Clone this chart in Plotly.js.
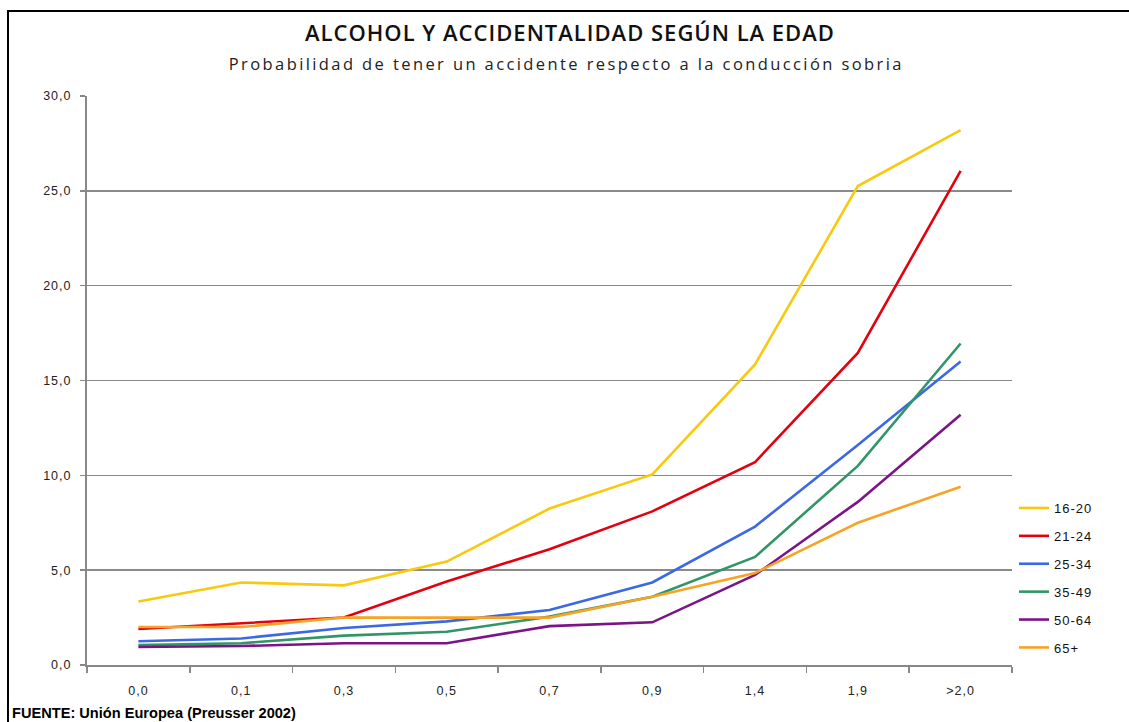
<!DOCTYPE html>
<html>
<head>
<meta charset="utf-8">
<script src="https://cdn.plot.ly/plotly-3.0.1.min.js"></script>
<style>
  html, body { margin: 0; padding: 0; background: #fff; overflow: hidden; }
  #frame { position: absolute; left: 7px; top: 10px; width: 1140px; height: 730px; border: 2px solid #000; box-sizing: border-box; }
  #chart { position: absolute; left: 0; top: 0; width: 1129px; height: 722px; }
  #chart .gtitle { letter-spacing: 1px; }
  #chart g.annotation[data-index="0"] text { letter-spacing: 2.4px; }
  #chart .xtick text, #chart .ytick text { letter-spacing: 1px; }
  #chart .legendtext { letter-spacing: 1px; }
</style>
</head>
<body>
<div id="frame"></div>
<div id="chart"></div>
<script>
const categories = ["0,0", "0,1", "0,3", "0,5", "0,7", "0,9", "1,4", "1,9", ">2,0"];
const seriesNames = ["16-20", "21-24", "25-34", "35-49", "50-64", "65+"];
const s16_20 = [3.35, 4.35, 4.2, 5.45, 8.25, 10.05, 15.85, 25.25, 28.2];
const s21_24 = [1.9, 2.2, 2.5, 4.4, 6.1, 8.1, 10.7, 16.45, 26.05];
const s25_34 = [1.25, 1.4, 1.95, 2.3, 2.9, 4.35, 7.3, 11.6, 16.0];
const s35_49 = [1.05, 1.15, 1.55, 1.75, 2.55, 3.6, 5.7, 10.5, 16.95];
const s50_64 = [0.95, 1.0, 1.15, 1.15, 2.05, 2.25, 4.75, 8.6, 13.2];
const s65 = [2.0, 2.0, 2.5, 2.5, 2.5, 3.6, 4.85, 7.5, 9.4];
const colors = ["#F7C90F", "#E4000E", "#3B69E3", "#319568", "#7B1487", "#F7A325"];
const allSeries = [s16_20, s21_24, s25_34, s35_49, s50_64, s65];

const traces = allSeries.map((vals, i) => ({
  type: "scatter",
  mode: "lines",
  name: seriesNames[i],
  x: categories,
  y: vals,
  legendgroup: "g" + i,
  line: { color: colors[i], width: 2.6 },
  hoverinfo: "x+y+name"
}));

const plotL = 87, plotR = 1012, plotT = 96, plotB = 665, W = 1129, H = 722;
const pw = plotR - plotL, ph = plotB - plotT;
const px = (x) => (x - plotL) / pw;
const py = (y) => (plotB - y) / ph;

const tickFont = { family: "Liberation Sans, Arial, sans-serif", size: 12.5, color: "#222" };

const layout = {
  width: W, height: H,
  margin: { l: plotL, r: W - plotR, t: plotT, b: H - plotB, pad: 0 },
  paper_bgcolor: "rgba(0,0,0,0)",
  plot_bgcolor: "rgba(0,0,0,0)",
  separators: ",.",
  showlegend: true,
  title: {
    text: "ALCOHOL Y ACCIDENTALIDAD SEGÚN LA EDAD",
    x: 570 / W, xref: "container", xanchor: "center",
    y: 1 - 33 / H, yref: "container", yanchor: "middle",
    font: { family: "Open Sans, sans-serif", size: 22, color: "#111", weight: 600 }
  },
  annotations: [
    {
      text: "Probabilidad de tener un accidente respecto a la conducción sobria",
      xref: "paper", yref: "paper", x: px(566), y: py(64),
      xanchor: "center", yanchor: "middle", showarrow: false,
      font: { family: "Open Sans, sans-serif", size: 16.5, color: "#222" }
    },
    {
      text: "<b>FUENTE: Unión Europea (Preusser 2002)</b>",
      xref: "paper", yref: "paper", x: px(10), y: py(713),
      xanchor: "left", yanchor: "middle", showarrow: false,
      font: { family: "Liberation Sans, Arial, sans-serif", size: 14.6, color: "#000" }
    }
  ],
  xaxis: {
    type: "category",
    range: [-0.5, 8.5],
    tickson: "boundaries",
    ticks: "outside", ticklen: 6, tickwidth: 1.5, tickcolor: "#888",
    showline: true, linecolor: "#888", linewidth: 2,
    showgrid: false, zeroline: false,
    tickfont: tickFont,
    ticklabelstandoff: 13,
    fixedrange: true
  },
  yaxis: {
    range: [0, 30],
    dtick: 5, tick0: 0,
    tickformat: ".1f",
    ticks: "outside", ticklen: 5, tickwidth: 1.5, tickcolor: "#888",
    showline: true, linecolor: "#888", linewidth: 2,
    showgrid: true, gridcolor: "#8a8a8a", gridwidth: 1.6,
    zeroline: false,
    tickfont: tickFont,
    ticklabelstandoff: 6,
    fixedrange: true
  },
  legend: {
    x: px(1014), y: py(493), xanchor: "left", yanchor: "top",
    bgcolor: "rgba(0,0,0,0)",
    font: { family: "Liberation Sans, Arial, sans-serif", size: 13, color: "#111" },
    tracegroupgap: 8,
    itemwidth: 30
  }
};

Plotly.newPlot("chart", traces, layout, { displayModeBar: false, staticPlot: true });
</script>
</body>
</html>
